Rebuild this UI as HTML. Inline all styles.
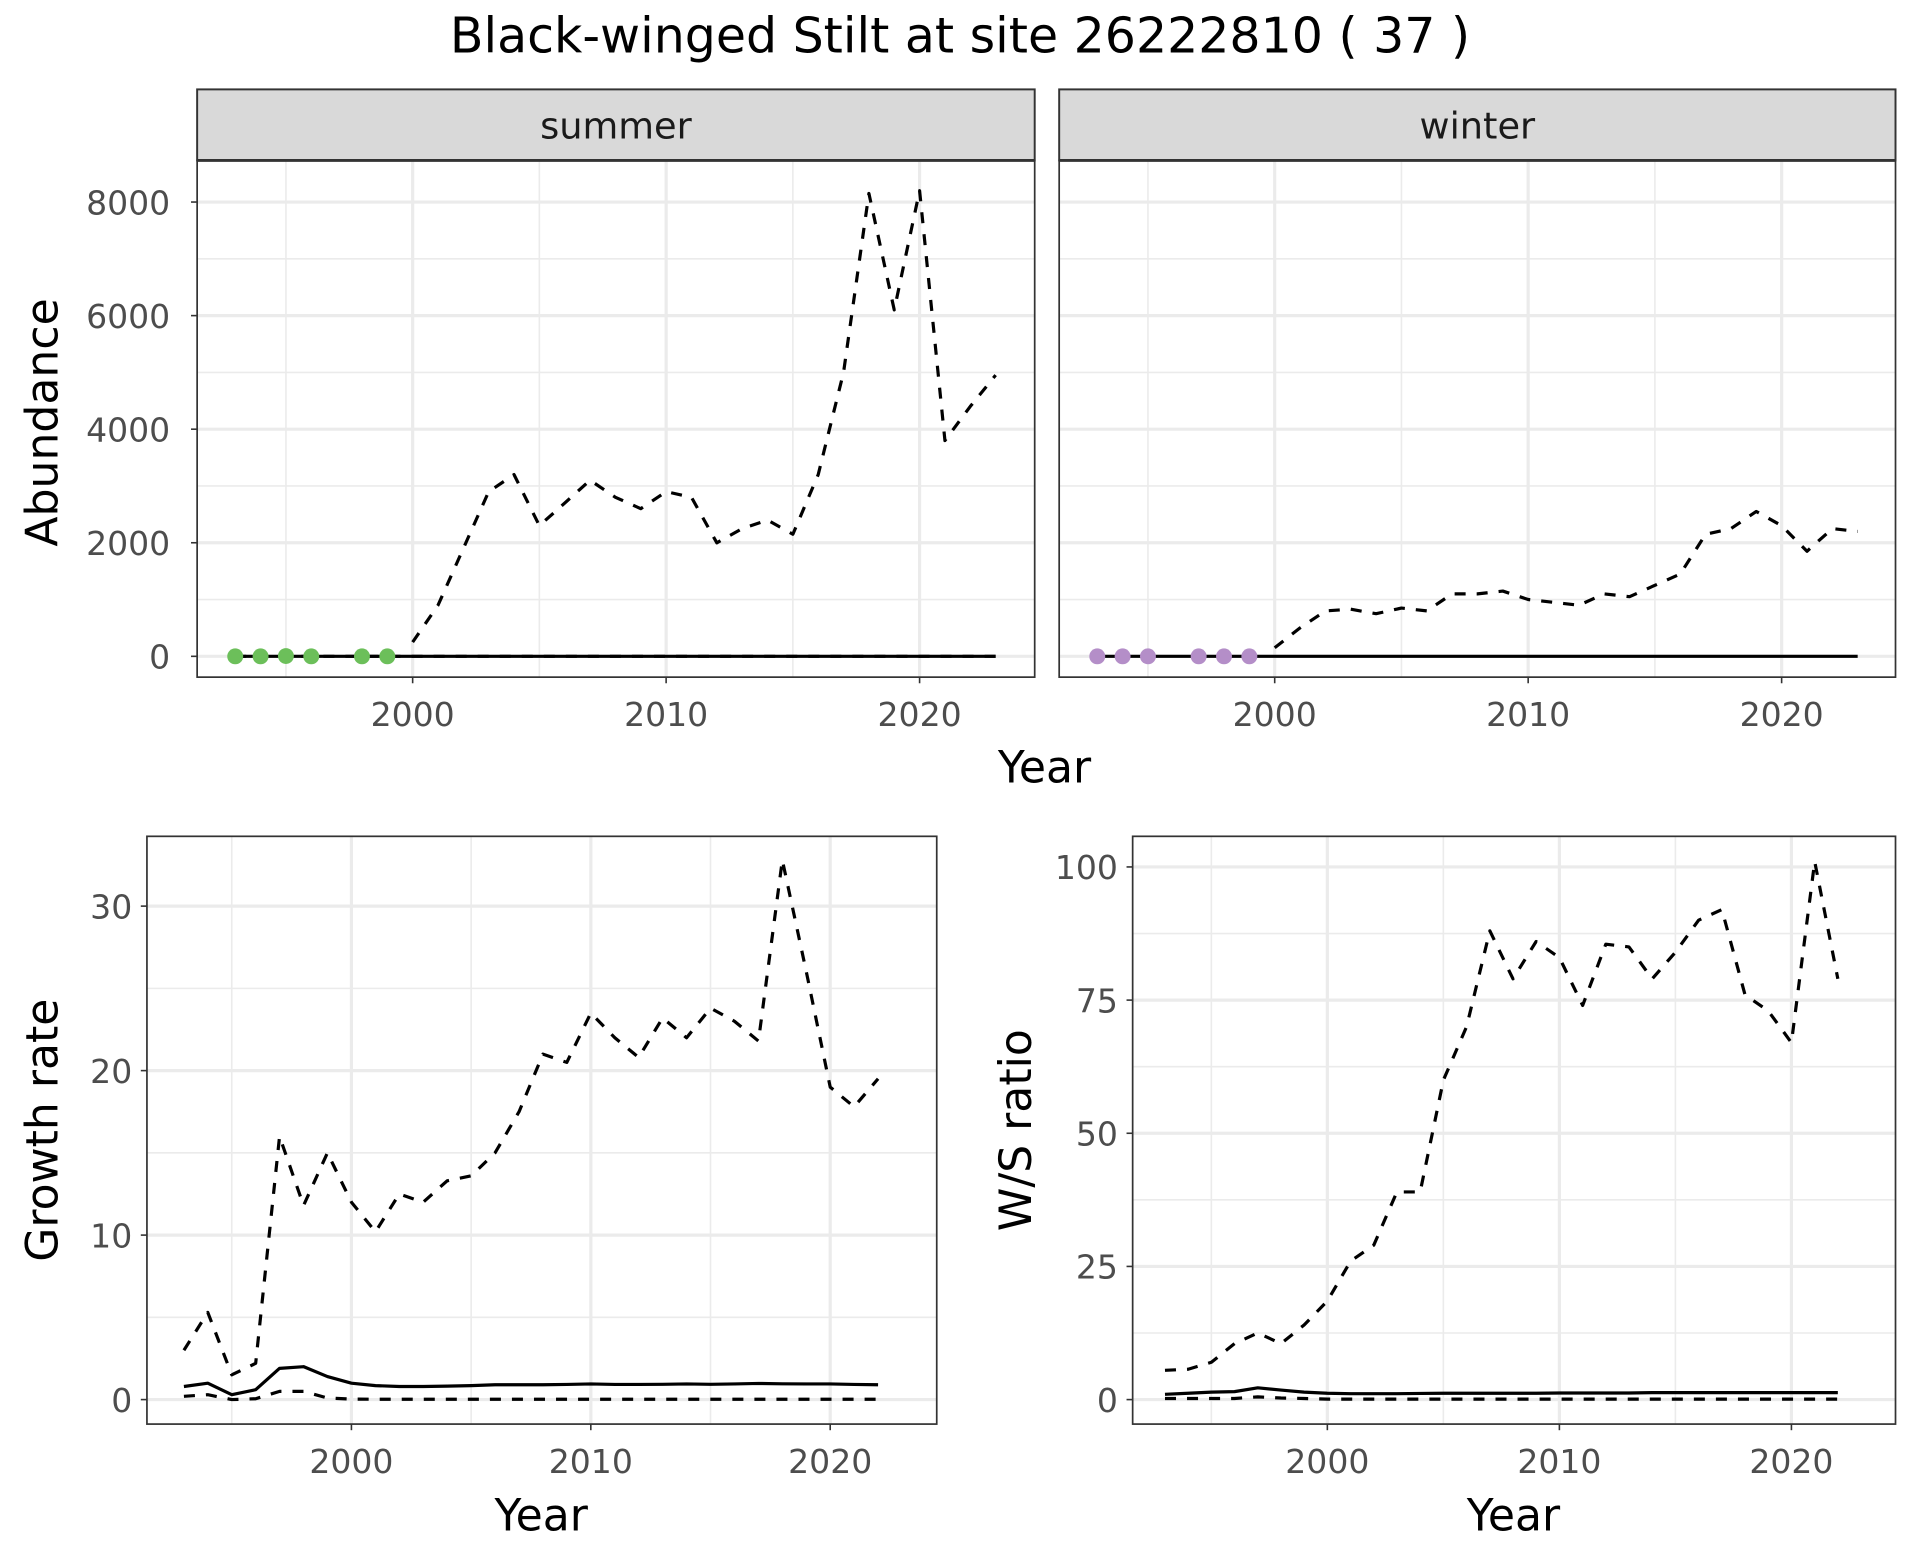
<!DOCTYPE html>
<html><head><meta charset="utf-8"><style>
html,body{margin:0;padding:0;background:#fff}
svg{display:block}
text{font-family:"DejaVu Sans","Liberation Sans",sans-serif}
</style></head><body>
<svg id="chart" width="1920" height="1560" viewBox="0 0 1568 1274" xmlns="http://www.w3.org/2000/svg">
<rect width="1568" height="1274" fill="#fff"/>
<text x="784" y="43" font-size="40" text-anchor="middle" fill="#000">Black-winged Stilt at site 26222810 ( 37 )</text>
</svg>
<script>
const absYears = [2000,2001,2002,2003,2004,2005,2006,2007,2008,2009,2010,2011,2012,2013,2014,2015,2016,2017,2018,2019,2020,2021,2022,2023];
const summerHigh = [250,900,1900,2900,3200,2300,2700,3100,2800,2600,2900,2800,2000,2250,2400,2150,3200,5000,8150,6100,8200,3800,4400,4950];
const winterHigh = [150,500,800,830,750,850,800,1100,1100,1150,1000,950,900,1100,1050,1250,1450,2150,2250,2550,2300,1850,2250,2200];
const solidYears = [1993,2023];
const solidAbund = [0,0];
const summerDotYears = [1993,1994,1995,1996,1998,1999];
const summerDotVals = [0,0,5,0,0,0];
const winterDotYears = [1993,1994,1995,1997,1998,1999];
const winterDotVals = [0,0,0,0,0,0];
const grYears = [1993,1994,1995,1996,1997,1998,1999,2000,2001,2002,2003,2004,2005,2006,2007,2008,2009,2010,2011,2012,2013,2014,2015,2016,2017,2018,2019,2020,2021,2022];
const grHigh = [3,5.3,1.5,2.2,16,11.8,15,12,10.2,12.5,12,13.3,13.6,15,17.5,21,20.5,23.5,22,20.8,23.2,22,23.8,23,21.8,32.8,26,19,17.8,19.5];
const grMid = [0.8,1.0,0.3,0.6,1.9,2.0,1.4,1.0,0.85,0.8,0.8,0.82,0.85,0.9,0.9,0.9,0.92,0.95,0.92,0.92,0.93,0.95,0.93,0.95,0.98,0.96,0.95,0.95,0.92,0.9];
const grLow = [0.2,0.3,0,0.05,0.5,0.5,0.1,0.03,0.02,0.02,0.02,0.02,0.02,0.02,0.02,0.02,0.02,0.02,0.02,0.02,0.02,0.02,0.02,0.02,0.02,0.02,0.02,0.02,0.02,0.02];
const wsHigh = [5.5,5.7,7,10.5,12.5,10.5,14,18.5,26,29,39,39,60,70,88,79,86,83,74,85.5,85,79,84,90,92,76,73,67,101,79];
const wsMid = [1,1.2,1.4,1.5,2.2,1.8,1.4,1.2,1.1,1.1,1.1,1.15,1.2,1.2,1.2,1.2,1.2,1.25,1.25,1.25,1.25,1.3,1.3,1.3,1.3,1.3,1.3,1.3,1.3,1.3];
const wsLow = [0.2,0.2,0.2,0.2,0.5,0.3,0.2,0.1,0.1,0.1,0.1,0.1,0.1,0.1,0.1,0.1,0.1,0.1,0.1,0.1,0.1,0.1,0.1,0.1,0.1,0.1,0.1,0.1,0.1,0.1];
const abTicks = [0,2000,4000,6000,8000];
const abMinor = [1000,3000,5000,7000];
const grTicks = [0,10,20,30];
const grMinor = [5,15,25];
const wsTicks = [0,25,50,75,100];
const wsMinor = [12.5,37.5,62.5,87.5];
const yearTicks = [2000,2010,2020];
const yearMinor = [1995,2005,2015];

const svg = document.getElementById('chart');
const NS = 'http://www.w3.org/2000/svg';
function mk(tag, attrs, parent){
  const e = document.createElementNS(NS, tag);
  for (const k in attrs) e.setAttribute(k, attrs[k]);
  (parent||svg).appendChild(e);
  return e;
}
function scale(d0,d1,r0,r1){return v => r0 + (v-d0)*(r1-r0)/(d1-d0);}

function panel(name, x0, x1, y0, y1, xs, ys, yT, yMin, yLabelFn, showY, lblOff){
  const g = mk('g', {});
  
  
  mk('rect', {x:x0, y:y0, width:x1-x0, height:y1-y0, fill:'#fff'}, g);
  yMin.forEach(v => mk('line', {x1:x0, x2:x1, y1:ys(v), y2:ys(v), stroke:'#ebebeb', 'stroke-width':1.3}, g));
  yearMinor.forEach(v => mk('line', {x1:xs(v), x2:xs(v), y1:y0, y2:y1, stroke:'#ebebeb', 'stroke-width':1.3}, g));
  yT.forEach(v => mk('line', {x1:x0, x2:x1, y1:ys(v), y2:ys(v), stroke:'#ebebeb', 'stroke-width':2.6}, g));
  yearTicks.forEach(v => mk('line', {x1:xs(v), x2:xs(v), y1:y0, y2:y1, stroke:'#ebebeb', 'stroke-width':2.6}, g));
  yearTicks.forEach(v => {
    mk('line', {x1:xs(v), x2:xs(v), y1:y1, y2:y1+5, stroke:'#333', 'stroke-width':1.3}, g);
    const t = mk('text', {x:xs(v), y:y1+40, 'font-size':27, fill:'#4d4d4d', 'text-anchor':'middle'}, g);
    t.textContent = v;
    
    
  });
  if (showY) yT.forEach(v => {
    mk('line', {x1:x0-5, x2:x0, y1:ys(v), y2:ys(v), stroke:'#333', 'stroke-width':1.3}, g);
    const t = mk('text', {x:x0-lblOff, y:ys(v)+10, 'font-size':27, fill:'#4d4d4d', 'text-anchor':'end'}, g);
    t.textContent = yLabelFn(v);
    
    
  });
  return g;
}
function line(g, name, xsArr, ysArr, xs, ys, dashed){
  const d = xsArr.map((x,i)=> (i?'L':'M') + xs(x).toFixed(1) + ' ' + ys(ysArr[i]).toFixed(1)).join(' ');
  const p = mk('path', {d:d, fill:'none', stroke:'#000', 'stroke-width':2.6, 'stroke-dasharray': dashed ? '9 9' : 'none', 'stroke-linejoin':'round'}, g);
  
  
}
function dots(g, name, xsArr, ysArr, xs, ys, color){
  xsArr.forEach((x,i)=>{
    const c = mk('circle', {cx:xs(x), cy:ys(ysArr[i]), r:6.5, fill:color}, g);
    
    
  });
}
function border(g, x0,x1,y0,y1){ mk('rect', {x:x0, y:y0, width:x1-x0, height:y1-y0, fill:'none', stroke:'#333', 'stroke-width':1.4}, g); }
function strip(g, x0,x1, label, name){
  const r = mk('rect', {x:x0, y:73, width:x1-x0, height:58, fill:'#d9d9d9', stroke:'#333', 'stroke-width':1.6}, g);
  
  
  mk('line', {x1:x0, x2:x1, y1:131, y2:131, stroke:'#333', 'stroke-width':2.4}, g);
  const t = mk('text', {x:(x0+x1)/2, y:113, 'font-size':30, fill:'#1a1a1a', 'text-anchor':'middle'}, g);
  t.textContent = label;
  
  
}
function label(txt, x, y, rot, name){
  const t = mk('text', {x:x, y:y, 'font-size':36, fill:'#000', 'text-anchor':'middle', transform: rot ? `rotate(-90 ${x} ${y})` : ''});
  t.textContent = txt;
  
  
}

// Summer
{
  const xs = scale(2000,2020,337,751), ys = scale(0,8000,536,165);
  const g = panel('summer-panel',161,845,131,553,xs,ys,abTicks,abMinor,v=>v,true,22);
  line(g,'summer-zero-dashed',solidYears,solidAbund,xs,ys,true);
  line(g,'summer-upper-dashed',absYears,summerHigh,xs,ys,true);
  line(g,'summer-solid',solidYears,solidAbund,xs,ys,false);
  dots(g,'summer-dot',summerDotYears,summerDotVals,xs,ys,'#6cbf5a');
  border(g,161,845,131,553);
  strip(g,161,845,'summer','summer-strip');
}
// Winter
{
  const xs = scale(2000,2020,1041,1455), ys = scale(0,8000,536,165);
  const g = panel('winter-panel',865,1548,131,553,xs,ys,abTicks,abMinor,v=>v,false,22);
  line(g,'winter-upper-dashed',absYears,winterHigh,xs,ys,true);
  line(g,'winter-solid',solidYears,solidAbund,xs,ys,false);
  dots(g,'winter-dot',winterDotYears,winterDotVals,xs,ys,'#b48ec8');
  border(g,865,1548,131,553);
  strip(g,865,1548,'winter','winter-strip');
}
label('Year',853,639,false,'top-x-axis-title');
label('Abundance',47,345,true,'abundance-axis-title');
// Growth
{
  const xs = scale(2000,2020,287,678), ys = scale(0,30,1143,740);
  const g = panel('growth-panel',120,765,683,1163,xs,ys,grTicks,grMinor,v=>v,true,12);
  line(g,'growth-upper',grYears,grHigh,xs,ys,true);
  line(g,'growth-mid',grYears,grMid,xs,ys,false);
  line(g,'growth-lower',grYears,grLow,xs,ys,true);
  border(g,120,765,683,1163);
}
label('Year',442,1250,false,'growth-x-axis-title');
label('Growth rate',47,923,true,'growth-axis-title');
// W/S
{
  const xs = scale(2000,2020,1084,1463), ys = scale(0,100,1143,708);
  const g = panel('ws-panel',925,1548,683,1163,xs,ys,wsTicks,wsMinor,v=>v,true,12);
  line(g,'ws-upper',grYears,wsHigh,xs,ys,true);
  line(g,'ws-mid',grYears,wsMid,xs,ys,false);
  line(g,'ws-lower',grYears,wsLow,xs,ys,true);
  border(g,925,1548,683,1163);
}
label('Year',1236,1250,false,'ws-x-axis-title');
label('W/S ratio',842,923,true,'ws-axis-title');
</script>
</body></html>
